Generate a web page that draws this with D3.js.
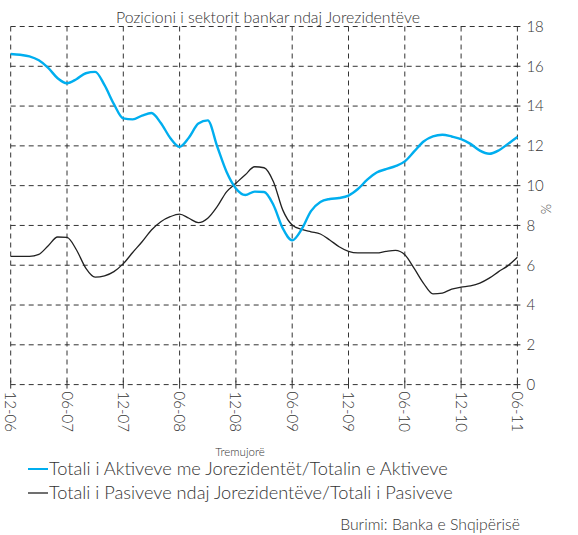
<!DOCTYPE html>
<html>
<head>
<meta charset="utf-8">
<script src="https://cdn.jsdelivr.net/npm/d3@7"></script>
<style>
  html, body { margin: 0; padding: 0; background: #fff; }
  svg { display: block; }
  text { font-family: Lato, "Noto Sans", sans-serif; font-weight: 300; fill: #333; }
</style>
</head>
<body>
<svg id="chart" width="578" height="535"></svg>
<script>
// ---- Data (monthly, Dec 2006 – Jun 2011) ----
const months = [
  "12-06","01-07","02-07","03-07","04-07","05-07","06-07","07-07","08-07","09-07","10-07","11-07",
  "12-07","01-08","02-08","03-08","04-08","05-08","06-08","07-08","08-08","09-08","10-08","11-08",
  "12-08","01-09","02-09","03-09","04-09","05-09","06-09","07-09","08-09","09-09","10-09","11-09",
  "12-09","01-10","02-10","03-10","04-10","05-10","06-10","07-10","08-10","09-10","10-10","11-10",
  "12-10","01-11","02-11","03-11","04-11","05-11","06-11"
];
const aktive = [
  16.62,16.58,16.5,16.3,15.92,15.4,15.15,15.35,15.65,15.72,15.05,14.1,
  13.38,13.33,13.52,13.65,13.15,12.4,11.95,12.42,13.12,13.28,11.98,10.7,
  9.86,9.53,9.7,9.68,9.03,7.85,7.25,7.8,8.72,9.18,9.33,9.38,
  9.5,9.83,10.3,10.66,10.83,10.98,11.22,11.72,12.22,12.48,12.56,12.47,
  12.34,12.1,11.76,11.6,11.77,12.1,12.45
];
const pasive = [
  6.45,6.45,6.45,6.55,6.98,7.42,7.4,6.78,5.86,5.4,5.47,5.68,
  6.08,6.64,7.18,7.77,8.19,8.44,8.57,8.36,8.14,8.36,8.94,9.69,
  10.12,10.55,10.95,10.9,10.2,8.77,8.02,7.8,7.68,7.57,7.27,6.93,
  6.7,6.62,6.62,6.62,6.7,6.75,6.53,5.84,5.09,4.56,4.6,4.8,
  4.9,4.96,5.1,5.35,5.68,5.98,6.4
];
const xTickLabels = ["12-06","06-07","12-07","06-08","12-08","06-09","12-09","06-10","12-10","06-11"];
const yTicks = [0,2,4,6,8,10,12,14,16,18];

const title = "Pozicioni i sektorit bankar ndaj Jorezidentëve";
const xAxisTitle = "Tremujorë";
const yAxisTitle = "%";
const seriesNames = [
  "Totali i Aktiveve me Jorezidentët/Totalin e Aktiveve",
  "Totali i Pasiveve ndaj Jorezidentëve/Totali i Pasiveve"
];
const source = "Burimi: Banka e Shqipërisë";

// ---- Layout ----
const svg = d3.select("#chart");
const pLeft = 10.7, pRight = 517.4, pTop = 26.5, pBottom = 384.6;
const x = d3.scalePoint().domain(months).range([pLeft, pRight]);
const y = d3.scaleLinear().domain([0, 18]).range([pBottom, pTop]);
const gridColor = "#333";
const dash = "5,4";

function fit(sel, width) {
  const node = sel.node();
  const fs = parseFloat(sel.attr("font-size"));
  const len = node.getComputedTextLength();
  if (len > 0) sel.attr("font-size", (fs * width / len).toFixed(2));
}

// Grid
const g = svg.append("g");
g.selectAll("line.h").data(yTicks).join("line")
  .attr("x1", pLeft).attr("x2", pRight)
  .attr("y1", d => y(d)).attr("y2", d => y(d))
  .attr("stroke", gridColor).attr("stroke-width", 1).attr("stroke-dasharray", dash);
g.selectAll("line.v").data(xTickLabels).join("line")
  .attr("x1", d => x(d)).attr("x2", d => x(d))
  .attr("y1", pTop).attr("y2", pBottom)
  .attr("stroke", gridColor).attr("stroke-width", 1).attr("stroke-dasharray", dash);

// Right axis
const yAxis = d3.axisRight(y).tickValues(yTicks).tickSize(0).tickPadding(9);
const ya = svg.append("g").attr("transform", `translate(${pRight},0)`).call(yAxis);
ya.select(".domain").remove();
ya.selectAll("text").attr("font-size", 15).attr("fill", "#444")
  .style("font-family", "Lato, 'Noto Sans', sans-serif").style("font-weight", 300);
svg.append("g").selectAll("line").data(yTicks).join("line")
  .attr("x1", pRight - 4).attr("x2", pRight + 3)
  .attr("y1", d => y(d)).attr("y2", d => y(d))
  .attr("stroke", "#333").attr("stroke-width", 1);

// Bottom axis ticks + labels
svg.append("g").selectAll("line").data(xTickLabels).join("line")
  .attr("x1", d => x(d)).attr("x2", d => x(d))
  .attr("y1", pBottom - 4).attr("y2", pBottom + 4)
  .attr("stroke", "#333").attr("stroke-width", 1);
svg.append("g").selectAll("text").data(xTickLabels).join("text")
  .attr("transform", d => `translate(${x(d) - 5.5},${pBottom + 7}) rotate(90)`)
  .attr("font-size", 15).attr("fill", "#444")
  .attr("text-anchor", "start")
  .text(d => d);

// Lines
const line = d3.line().x((d, i) => x(months[i])).y(d => y(d)).curve(d3.curveMonotoneX);
svg.append("path").datum(pasive).attr("d", line)
  .attr("fill", "none").attr("stroke", "#222").attr("stroke-width", 1.3);
svg.append("path").datum(aktive).attr("d", line)
  .attr("fill", "none").attr("stroke", "#00aeef").attr("stroke-width", 2.4);

// Titles
const t = svg.append("text").attr("x", 268).attr("y", 23).attr("text-anchor", "middle")
  .attr("font-size", 14).attr("fill", "#333").text(title);
fit(t, 304);
svg.append("text").attr("transform", `translate(541,209) rotate(90)`)
  .attr("text-anchor", "middle").attr("font-size", 13).attr("fill", "#444").text(yAxisTitle);
svg.append("text").attr("x", 240).attr("y", 456).attr("text-anchor", "middle")
  .attr("font-size", 11.5).attr("fill", "#333").text(xAxisTitle);

// Legend
const legColors = ["#00aeef", "#222"];
const legY = [469, 493];
seriesNames.forEach((name, i) => {
  svg.append("line").attr("x1", 28).attr("x2", 48).attr("y1", legY[i]).attr("y2", legY[i])
    .attr("stroke", legColors[i]).attr("stroke-width", i === 0 ? 2 : 1.3);
  const tx = svg.append("text").attr("x", 49).attr("y", legY[i] + 6)
    .attr("font-size", 17).attr("fill", "#222").text(name);
  fit(tx, i === 0 ? 399 : 404);
});

// Source
const s = svg.append("text").attr("x", 520).attr("y", 530).attr("text-anchor", "end")
  .attr("font-size", 16).attr("fill", "#333").text(source);
fit(s, 180);
</script>
</body>
</html>
